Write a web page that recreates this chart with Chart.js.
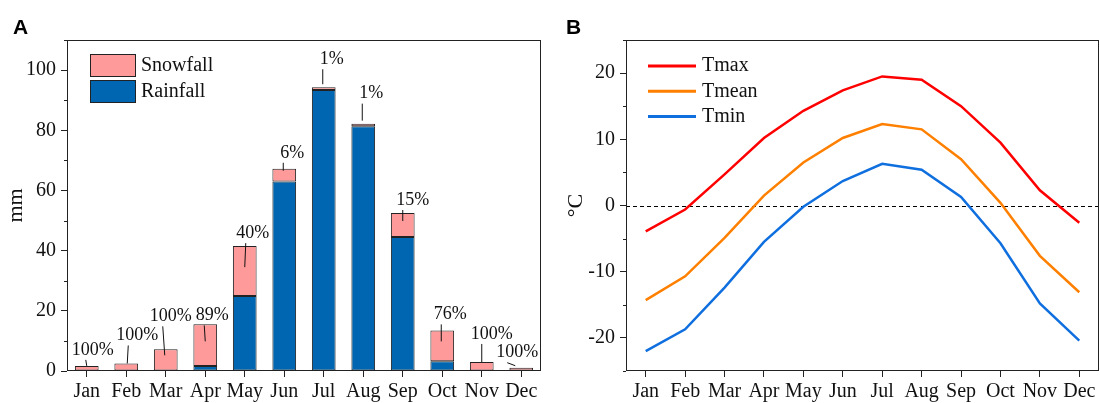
<!DOCTYPE html>
<html>
<head>
<meta charset="utf-8">
<script src="https://cdn.jsdelivr.net/npm/chart.js@4.4.1/dist/chart.umd.min.js"></script>
<style>
  html, body { margin: 0; padding: 0; background: #fff; }
  #wrap { position: relative; width: 1100px; height: 403px; }
  canvas { position: absolute; top: 0; }
  #precip { left: 0; }
  #temp { left: 550px; }
</style>
</head>
<body>
<div id="wrap">
  <canvas id="precip" width="550" height="403"></canvas>
  <canvas id="temp" width="550" height="403"></canvas>
</div>
<script>
const months = ['Jan', 'Feb', 'Mar', 'Apr', 'May', 'Jun', 'Jul', 'Aug', 'Sep', 'Oct', 'Nov', 'Dec'];

// panel A: monthly precipitation, mm
const rainfall = [0, 0, 0, 1.7, 24.9, 63.0, 93.4, 81.3, 44.5, 3.2, 0, 0];
const snowfall = [1.7, 2.5, 7.2, 13.8, 16.6, 4.2, 0.9, 0.9, 8.0, 10.3, 3.0, 1.1];
const snowShare = ['100%', '100%', '100%', '89%', '40%', '6%', '1%', '1%', '15%', '76%', '100%', '100%'];
const mmTicks = [0, 20, 40, 60, 80, 100];

// panel B: monthly air temperature, °C
const tmax = [-3.9, -0.6, 4.7, 10.2, 14.3, 17.4, 19.5, 19.0, 15.0, 9.5, 2.3, -2.6];
const tmean = [-14.3, -10.7, -4.9, 1.5, 6.5, 10.2, 12.3, 11.5, 7.0, 0.4, -7.6, -13.1];
const tmin = [-22.0, -18.7, -12.4, -5.5, -0.2, 3.7, 6.3, 5.4, 1.3, -5.7, -14.8, -20.4];
const degTicks = [-20, -10, 0, 10, 20];

// where the share labels and their leader lines sit, px relative to bar top
const shareDx = [6, 11, 5, 7, 8, 8, 8, 8, 10, 8, 10, -4];
const shareLift = [16, 28, 33, 9, 13, 16, 28, 30, 13, 16, 28, 15];
const leadTopDx = [-1, 2, -3, -1, 1, -1, -1, -1, 0, -1, 0, -14];
const leadBotDx = [0, 1, -1, 0, 0, -1, -1, -1, 0, -1, 0, -6];
const leadDepth = [0, 0, 6, 17, 21, 2, -3, -3, 8, 11, 0, -2];

const SERIF = '"Liberation Serif", "Times New Roman", serif';
const INK = '#111';
const AXIS = '#222';
const SNOW = '#FF9A9A';
const RAIN = '#0066B2';

Chart.defaults.font.family = SERIF;
Chart.defaults.color = INK;

const frame = {
  id: 'frame',
  afterDraw(chart) {
    const a = chart.chartArea, ctx = chart.ctx;
    ctx.save();
    ctx.strokeStyle = AXIS;
    ctx.lineWidth = 1;
    ctx.strokeRect(a.left + 0.5, a.top + 0.5, a.right - a.left - 1, a.bottom - a.top - 1);
    ctx.restore();
  }
};

const minorTicks = {
  id: 'minorTicks',
  afterDraw(chart) {
    const y = chart.scales.y, ctx = chart.ctx;
    const majors = chart.options.plugins.minorTicks.majors;
    ctx.save();
    ctx.strokeStyle = AXIS;
    ctx.lineWidth = 1;
    y.ticks.forEach(t => {
      if (majors.includes(t.value)) return;
      const py = Math.round(y.getPixelForValue(t.value)) + 0.5;
      ctx.beginPath();
      ctx.moveTo(y.right - 3, py);
      ctx.lineTo(y.right, py);
      ctx.stroke();
    });
    ctx.restore();
  }
};

const panelLetter = {
  id: 'panelLetter',
  afterDraw(chart) {
    const o = chart.options.plugins.panelLetter, ctx = chart.ctx;
    ctx.save();
    ctx.font = 'bold 21px "Liberation Sans", Arial, sans-serif';
    ctx.fillStyle = '#000';
    ctx.textBaseline = 'alphabetic';
    ctx.fillText(o.text, o.x, 33.5);
    ctx.restore();
  }
};

const shareLabels = {
  id: 'shareLabels',
  afterDatasetsDraw(chart) {
    const { ctx, scales: { x, y } } = chart;
    ctx.save();
    ctx.font = '18px ' + SERIF;
    ctx.fillStyle = INK;
    ctx.strokeStyle = INK;
    ctx.lineWidth = 1;
    ctx.textAlign = 'center';
    ctx.textBaseline = 'middle';
    snowShare.forEach((txt, i) => {
      const cx = x.getPixelForValue(i);
      const top = y.getPixelForValue(rainfall[i] + snowfall[i]);
      const ly = top - shareLift[i];
      ctx.fillText(txt, cx + shareDx[i], ly);
      ctx.beginPath();
      ctx.moveTo(cx + leadTopDx[i], ly + 10);
      ctx.lineTo(cx + leadBotDx[i], top + leadDepth[i]);
      ctx.stroke();
    });
    ctx.restore();
  }
};

const boxLegend = {
  id: 'boxLegend',
  afterDraw(chart) {
    const a = chart.chartArea, ctx = chart.ctx;
    const sets = chart.data.datasets.slice().reverse();
    ctx.save();
    ctx.font = '20px ' + SERIF;
    ctx.textBaseline = 'middle';
    sets.forEach((ds, i) => {
      const bx = a.left + 23, by = a.top + 14 + i * 26;
      ctx.fillStyle = ds.backgroundColor;
      ctx.fillRect(bx, by, 46, 23);
      ctx.strokeStyle = AXIS;
      ctx.lineWidth = 1;
      ctx.strokeRect(bx + 0.5, by + 0.5, 45, 22);
      ctx.fillStyle = INK;
      ctx.fillText(ds.label, a.left + 74, by + 12);
    });
    ctx.restore();
  }
};

const lineLegend = {
  id: 'lineLegend',
  afterDraw(chart) {
    const a = chart.chartArea, ctx = chart.ctx;
    ctx.save();
    ctx.font = '20px ' + SERIF;
    ctx.textBaseline = 'middle';
    chart.data.datasets.forEach((ds, i) => {
      const ly = a.top + 26 + i * 25.3;
      ctx.strokeStyle = ds.borderColor;
      ctx.lineWidth = 3;
      ctx.beginPath();
      ctx.moveTo(a.left + 22, ly);
      ctx.lineTo(a.left + 70, ly);
      ctx.stroke();
      ctx.fillStyle = INK;
      ctx.fillText(ds.label, a.left + 76, ly);
    });
    ctx.restore();
  }
};

const zeroLine = {
  id: 'zeroLine',
  beforeDatasetsDraw(chart) {
    const { ctx, chartArea: a, scales: { y } } = chart;
    const py = Math.round(y.getPixelForValue(0)) + 0.5;
    ctx.save();
    ctx.strokeStyle = '#000';
    ctx.lineWidth = 1;
    ctx.setLineDash([4, 3]);
    ctx.beginPath();
    ctx.moveTo(a.left, py);
    ctx.lineTo(a.right, py);
    ctx.stroke();
    ctx.restore();
  }
};

function xAxis() {
  return {
    offset: true,
    grid: { display: true, drawOnChartArea: false, drawTicks: true, tickLength: 6, offset: false, tickColor: AXIS },
    border: { display: false },
    ticks: { font: { size: 20 }, color: INK, autoSkip: false, maxRotation: 0, padding: 3 },
    afterFit: s => { s.height = 32; }
  };
}

function yAxis(min, max, step, majors, title, titlePad, width) {
  return {
    min: min, max: max,
    grid: {
      display: true, drawOnChartArea: false, drawTicks: true, tickLength: 6,
      tickColor: c => majors.includes(c.tick.value) ? AXIS : 'rgba(0,0,0,0)'
    },
    border: { display: false },
    ticks: {
      stepSize: step, font: { size: 20 }, color: INK, padding: 5,
      callback: v => majors.includes(v) ? String(v) : ''
    },
    title: { display: true, text: title, font: { size: 22 }, color: INK, padding: { top: titlePad, bottom: 0 } },
    afterFit: s => { s.width = width; }
  };
}

new Chart(document.getElementById('precip'), {
  type: 'bar',
  data: {
    labels: months,
    datasets: [
      { label: 'Rainfall', data: rainfall, backgroundColor: RAIN, borderColor: AXIS, borderWidth: 1, borderSkipped: false },
      { label: 'Snowfall', data: snowfall, backgroundColor: SNOW, borderColor: AXIS, borderWidth: 1, borderSkipped: false }
    ]
  },
  options: {
    responsive: false,
    animation: false,
    devicePixelRatio: 1,
    layout: { padding: { left: 0, right: 9, top: 40, bottom: 0 } },
    datasets: { bar: { barPercentage: 0.6, categoryPercentage: 1.0 } },
    plugins: {
      legend: { display: false },
      tooltip: { enabled: false },
      minorTicks: { majors: mmTicks },
      panelLetter: { text: 'A', x: 13 }
    },
    scales: {
      x: Object.assign(xAxis(), { stacked: true }),
      y: Object.assign(yAxis(0, 110, 10, mmTicks, 'mm', 3, 67), { stacked: true })
    }
  },
  plugins: [frame, minorTicks, panelLetter, shareLabels, boxLegend]
});

new Chart(document.getElementById('temp'), {
  type: 'line',
  data: {
    labels: months,
    datasets: [
      { label: 'Tmax', data: tmax, borderColor: '#FF0000', borderWidth: 2.5, pointRadius: 0, tension: 0 },
      { label: 'Tmean', data: tmean, borderColor: '#FF8000', borderWidth: 2.5, pointRadius: 0, tension: 0 },
      { label: 'Tmin', data: tmin, borderColor: '#0F6FDE', borderWidth: 2.5, pointRadius: 0, tension: 0 }
    ]
  },
  options: {
    responsive: false,
    animation: false,
    devicePixelRatio: 1,
    layout: { padding: { left: 0, right: 1, top: 40, bottom: 0 } },
    plugins: {
      legend: { display: false },
      tooltip: { enabled: false },
      minorTicks: { majors: degTicks },
      panelLetter: { text: 'B', x: 16 }
    },
    scales: {
      x: xAxis(),
      y: yAxis(-25, 25, 5, degTicks, '°C', 13, 76)
    }
  },
  plugins: [frame, minorTicks, panelLetter, zeroLine, lineLegend]
});
</script>
</body>
</html>
